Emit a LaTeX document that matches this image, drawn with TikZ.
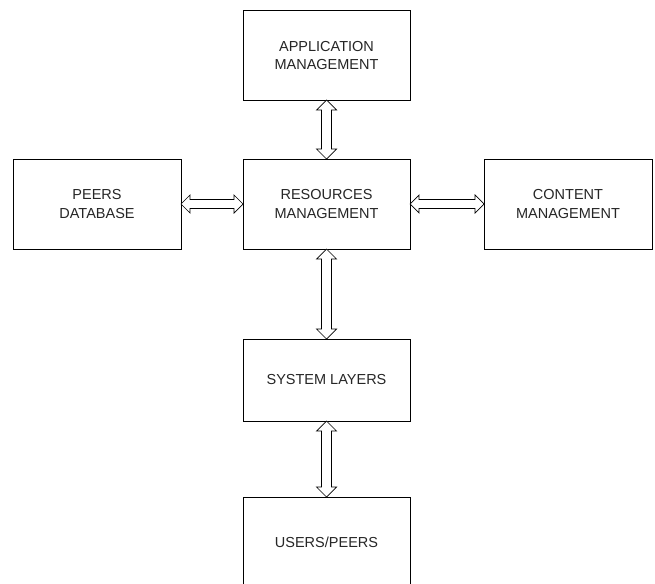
\documentclass[tikz,border=0pt]{standalone}
\usepackage{fontspec}
\setmainfont{Liberation Sans}
\usetikzlibrary{calc}

\tikzset{
  block/.style={draw=black, line width=0.8pt, fill=white, inner sep=0pt, outer sep=0pt,
    align=center, font=\fontsize{14.5}{18.3}\selectfont, text=black!85},
  dbl/.style={draw=black, line width=0.7pt, fill=white, line join=miter},
}

% hollow double-headed block arrow, top node #1 to bottom node #2
\newcommand\vdblarrow[2]{%
  \draw[dbl] (#1.south) -- ++(-10,-10) -- ++(5,0)
    -- ($(#2.north)+(-5,10)$) -- ++(-5,0) -- (#2.north)
    -- ++(10,10) -- ++(-5,0)
    -- ($(#1.south)+(5,-10)$) -- ++(5,0) -- cycle;}
% hollow double-headed block arrow, left node #1 to right node #2
\newcommand\hdblarrow[2]{%
  \draw[dbl] (#1.east) -- ++(9,9) -- ++(0,-4.5)
    -- ($(#2.west)+(-9,4.5)$) -- ++(0,4.5) -- (#2.west)
    -- ++(-9,-9) -- ++(0,4.5)
    -- ($(#1.east)+(9,-4.5)$) -- ++(0,-4.5) -- cycle;}

\begin{document}
\begin{tikzpicture}[x=1pt,y=1pt]
  \clip (0,0) rectangle (655,-583);
  \fill[white] (0,0) rectangle (655,-583);

  \node[block, minimum width=167pt, minimum height=89.5pt] (app) at (326.5,-55.25) {APPLICATION\\MANAGEMENT};
  \node[block, minimum width=168pt, minimum height=90pt] (peers) at (97,-204) {PEERS\\DATABASE};
  \node[block, minimum width=167pt, minimum height=90pt] (res) at (326.5,-204) {RESOURCES\\MANAGEMENT};
  \node[block, minimum width=168pt, minimum height=90pt] (content) at (568,-204) {CONTENT\\MANAGEMENT};
  \node[block, minimum width=167pt, minimum height=82pt] (sys) at (326.5,-380) {SYSTEM LAYERS};
  \node[block, minimum width=167pt, minimum height=90pt] (users) at (326.5,-542) {USERS/PEERS};

  \vdblarrow{app}{res}
  \hdblarrow{peers}{res}
  \hdblarrow{res}{content}
  \vdblarrow{res}{sys}
  \vdblarrow{sys}{users}
\end{tikzpicture}
\end{document}
